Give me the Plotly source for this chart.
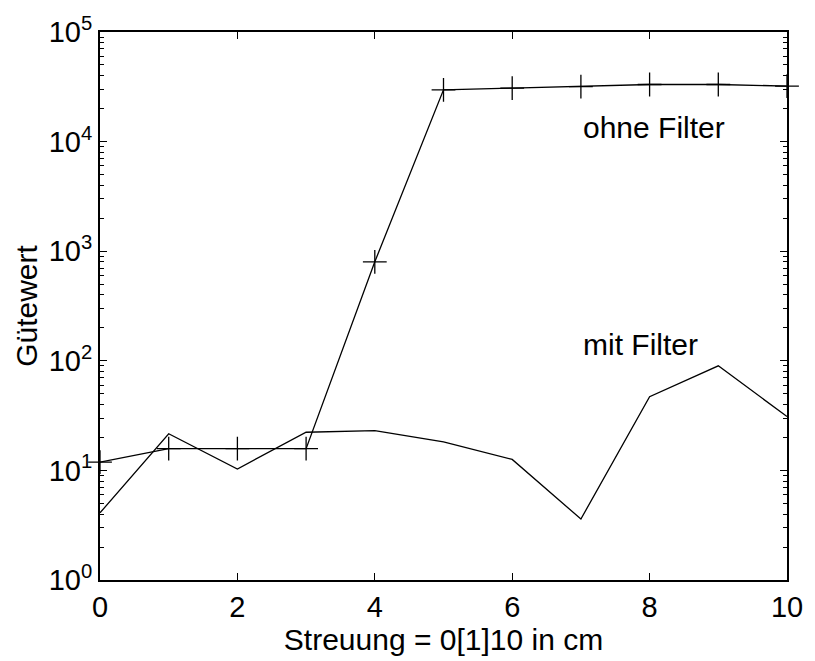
import plotly.graph_objects as go

# Streuung in cm
streuung = [0, 1, 2, 3, 4, 5, 6, 7, 8, 9, 10]

# Gütewert ohne Filter (mit + Markern)
ohne_filter = [11.9, 15.8, 15.8, 15.8, 800, 29700, 30800, 31800, 33200, 33200, 32100]

# Gütewert mit Filter
mit_filter = [4.1, 21.6, 10.3, 22.3, 23.1, 18.2, 12.6, 3.6, 47, 90, 31]

x_ticks = [0, 2, 4, 6, 8, 10]
y_ticks = [1, 10, 100, 1000, 10000, 100000]
y_ticklabels = ["10<sup>0</sup>", "10<sup>1</sup>", "10<sup>2</sup>",
                "10<sup>3</sup>", "10<sup>4</sup>", "10<sup>5</sup>"]
y_minor = [k * 10 ** n for n in range(0, 5) for k in range(2, 10)]

family = "Arial, Liberation Sans, sans-serif"
text_font = dict(family=family, size=30, color="black")
tick_font = dict(family=family, size=29, color="black")

fig = go.Figure()
fig.add_trace(go.Scatter(
    x=streuung, y=ohne_filter, mode="lines+markers",
    line=dict(color="black", width=1.3),
    marker=dict(symbol="cross-thin", size=17, line=dict(color="black", width=1.3)),
    cliponaxis=False, showlegend=False,
))
fig.add_trace(go.Scatter(
    x=streuung, y=mit_filter, mode="lines",
    line=dict(color="black", width=1.3),
    showlegend=False,
))

fig.add_annotation(x=7.0, y=4.127, xref="x", yref="y", text="ohne Filter",
                   showarrow=False, xanchor="left", yanchor="middle", font=text_font)
fig.add_annotation(x=7.0, y=2.145, xref="x", yref="y", text="mit Filter",
                   showarrow=False, xanchor="left", yanchor="middle", font=text_font)

fig.update_xaxes(
    range=[0, 10], tickvals=x_ticks, ticks="inside", ticklen=7, tickwidth=1,
    tickcolor="black", showline=True, linecolor="black", linewidth=2,
    mirror="allticks", showgrid=False, zeroline=False, tickfont=tick_font,
    title=dict(text="Streuung = 0[1]10 in cm", font=text_font, standoff=0),
)
fig.update_yaxes(
    type="log", range=[0, 5], tickvals=y_ticks, ticktext=y_ticklabels,
    ticks="inside", ticklen=7, tickwidth=1, tickcolor="black",
    minor=dict(tickvals=y_minor, ticks="inside", ticklen=4, tickwidth=1,
               tickcolor="black", showgrid=False),
    showline=True, linecolor="black", linewidth=2, mirror="allticks",
    showgrid=False, zeroline=False, tickfont=tick_font,
    title=dict(text="Gütewert", font=text_font, standoff=2),
)

fig.update_layout(
    width=815, height=661,
    margin=dict(l=100, r=20, t=32, b=81),
    paper_bgcolor="white", plot_bgcolor="white",
    font=text_font,
)

fig.write_html("out.html")
